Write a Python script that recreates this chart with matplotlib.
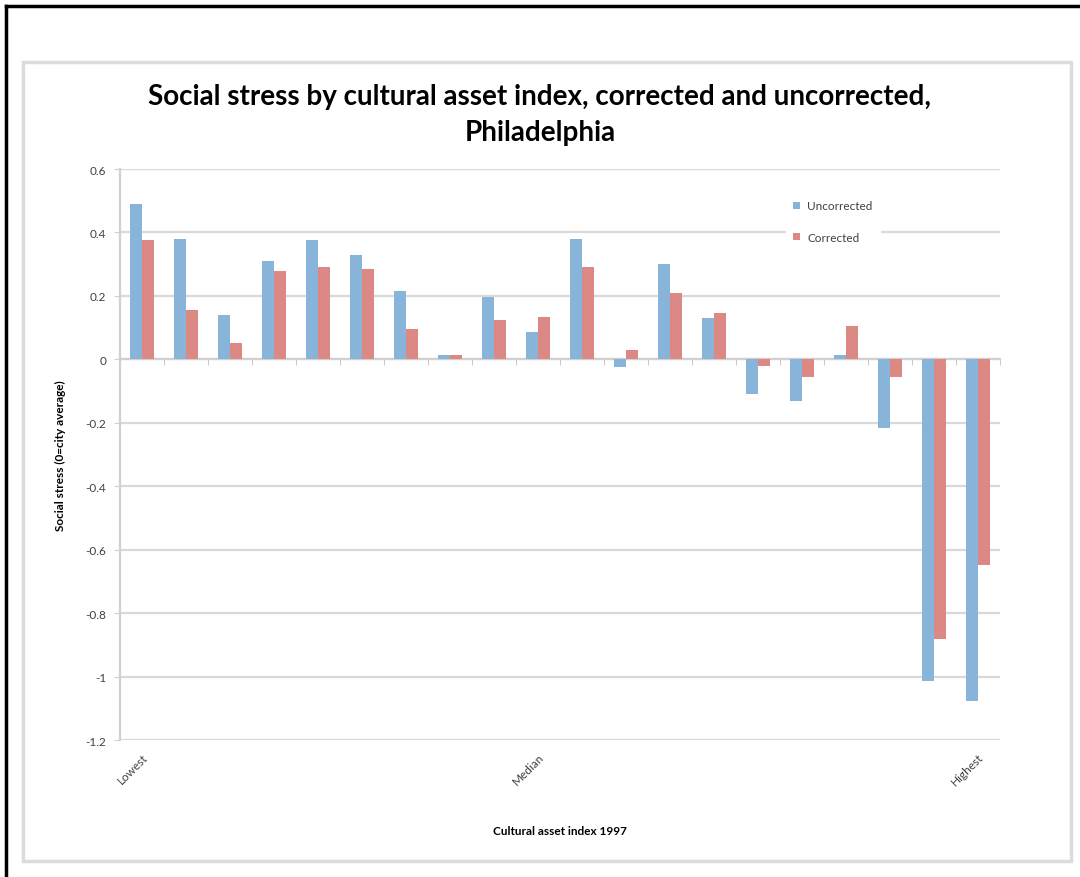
import matplotlib
matplotlib.use("Agg")
import matplotlib.pyplot as plt
from matplotlib.patches import Rectangle
from matplotlib.lines import Line2D
import numpy as np

plt.rcParams['font.family'] = ['Lato', 'DejaVu Sans']

categories = ["Lowest"] + [""] * 8 + ["Median"] + [""] * 9 + ["Highest"]
uncorrected = [0.49, 0.38, 0.14, 0.31, 0.375, 0.33, 0.215, 0.015, 0.195, 0.085,
               0.38, -0.025, 0.30, 0.13, -0.11, -0.13, 0.015, -0.215, -1.015, -1.078]
corrected = [0.375, 0.155, 0.05, 0.28, 0.29, 0.285, 0.095, 0.015, 0.125, 0.135,
             0.29, 0.03, 0.21, 0.145, -0.02, -0.057, 0.105, -0.057, -0.883, -0.647]
series_names = ["Uncorrected", "Corrected"]
yticks = [0.6, 0.4, 0.2, 0, -0.2, -0.4, -0.6, -0.8, -1, -1.2]
ytick_labels = ["0.6", "0.4", "0.2", "0", "-0.2", "-0.4", "-0.6", "-0.8", "-1", "-1.2"]

W, H = 1080, 878
fig = plt.figure(figsize=(W / 100, H / 100), dpi=100)
fig.patch.set_facecolor("white")

# outer black border (top and left) and grey chart frame
fig.add_artist(Line2D([6 / W, 6 / W], [0, 1 - 7 / H], transform=fig.transFigure, color="black", lw=2.5))
fig.add_artist(Line2D([6 / W, 1], [1 - 7 / H, 1 - 7 / H], transform=fig.transFigure, color="black", lw=2.5))
fig.add_artist(Rectangle((23 / W, 1 - 862 / H), (1071 - 23) / W, (862 - 63) / H,
                         transform=fig.transFigure, fill=False, edgecolor="#dcdcdc", lw=2.5))

ax = fig.add_axes([120 / W, 1 - 741 / H, 880 / W, 571 / H])
n = len(categories)
x = np.arange(n)
bw = 0.27
blue = "#89B4DA"
red = "#DC8985"
ax.bar(x - bw / 2, uncorrected, width=bw, color=blue, label=series_names[0], zorder=3)
ax.bar(x + bw / 2, corrected, width=bw, color=red, label=series_names[1], zorder=3)

ax.set_xlim(-0.5, n - 0.5)
ax.set_ylim(-1.2, 0.6)
ax.set_yticks(yticks)
ax.set_yticklabels(ytick_labels)
ax.yaxis.grid(True, color="#d9d9d9", lw=1.6, zorder=0)
ax.set_axisbelow(True)

ax.spines["right"].set_visible(False)
ax.spines["bottom"].set_visible(False)
ax.spines["left"].set_color("#d0d0d0")
ax.spines["left"].set_linewidth(1.6)
ax.spines["top"].set_position(("data", 0))
ax.spines["top"].set_color("#d0d0d0")
ax.spines["top"].set_linewidth(1.6)
ax.spines["top"].set_zorder(2)

ax.set_xticks(x)
ax.set_xticklabels(categories, rotation=45, ha="right", rotation_mode="anchor",
                   fontsize=8.5, color="#404040")
ax.set_xticks(np.arange(n + 1) - 0.5, minor=True)
ax.tick_params(axis="x", which="major", length=0, pad=8, bottom=True, top=False)
ax.tick_params(axis="x", which="minor", top=True, bottom=False, direction="in",
               length=4, color="#c0c0c0", labeltop=False)
ax.tick_params(axis="y", length=4, color="#d0d0d0", labelsize=8.5, labelcolor="#404040", pad=6)

ax.set_ylabel("Social stress (0=city average)", fontsize=8.5, fontweight="bold", labelpad=14)
ax.set_xlabel("Cultural asset index 1997", fontsize=8.5, fontweight="bold", labelpad=27)

fig.text(540 / W, 1 - 115 / H, "Social stress by cultural asset index, corrected and uncorrected,\nPhiladelphia",
         ha="center", va="center", fontsize=20, fontweight="bold", linespacing=1.45)

leg = ax.legend(loc="center", bbox_to_anchor=(0.81, 0.908), frameon=True, fontsize=8.5,
                handlelength=0.6, handleheight=0.6, handletextpad=0.6, labelspacing=1.7,
                borderpad=0.6)
leg.get_frame().set_facecolor("white")
leg.get_frame().set_edgecolor("white")
leg.get_frame().set_alpha(1)
for t in leg.get_texts():
    t.set_color("#404040")

fig.savefig("out.png", dpi=100)
